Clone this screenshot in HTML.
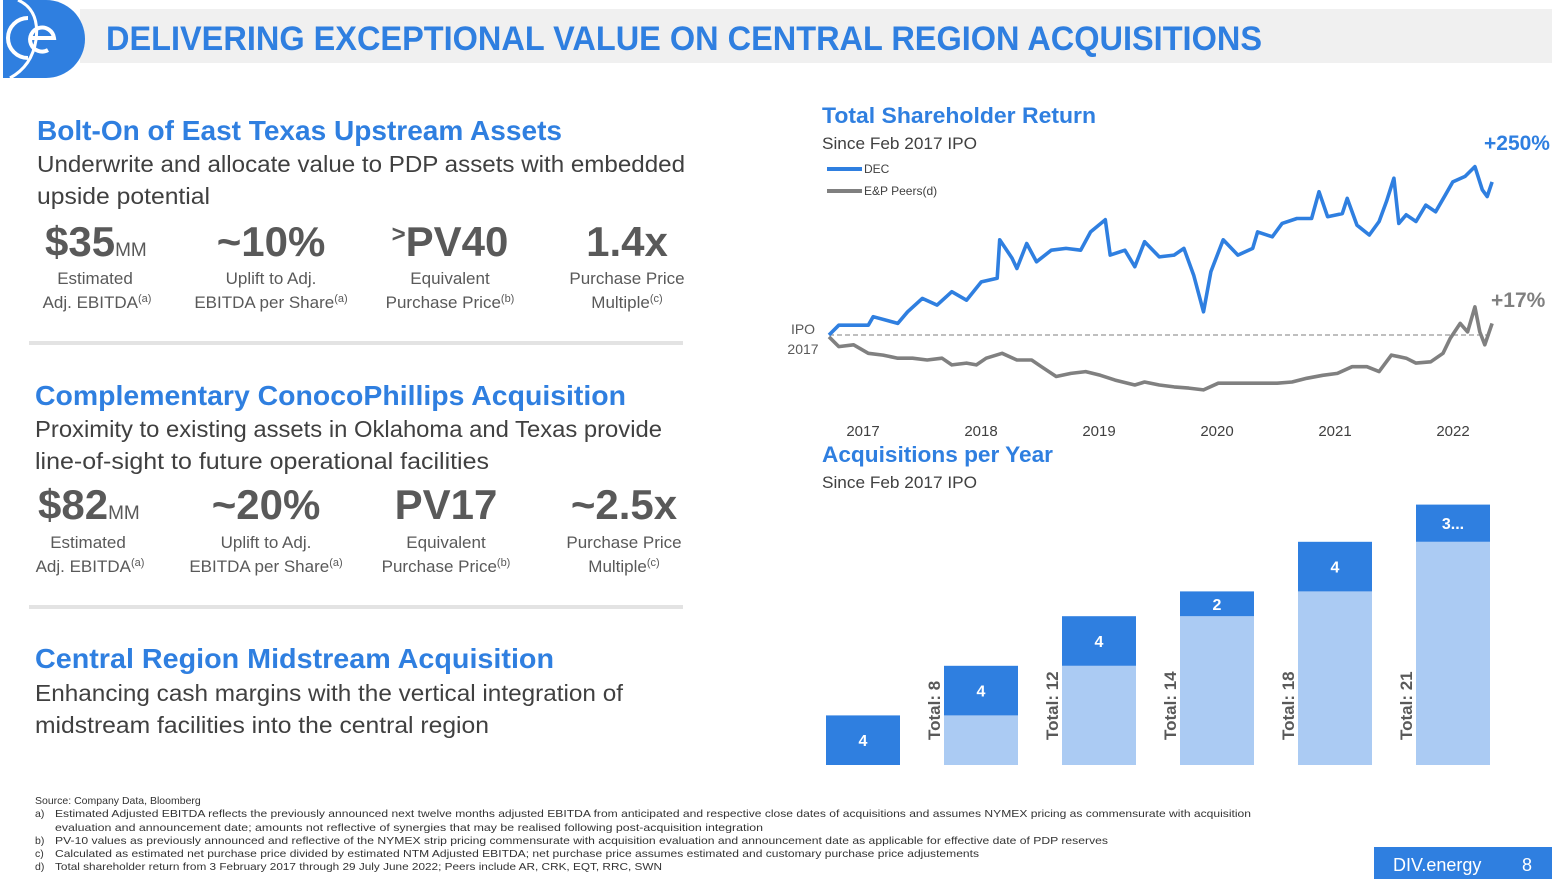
<!DOCTYPE html>
<html><head><meta charset="utf-8"><style>
html,body{margin:0;padding:0;background:#fff;width:1552px;height:879px;overflow:hidden}
svg{display:block;font-family:"Liberation Sans",sans-serif}
.h{fill:#2f7fe0;font-weight:bold;font-size:28px}
.b{fill:#404040;font-size:23px}
.n{fill:#595959;font-weight:bold;font-size:42px}
.l{fill:#595959;font-size:17px}
.f{fill:#333;font-size:10.5px}
</style></head><body>
<svg id="page" width="1552" height="879" viewBox="0 0 1552 879">
<rect x="80" y="9" width="1472" height="54" fill="#f0f0f0"/>
<g>
<path d="M3 0 H46 A39 39 0 0 1 46 78 H3 Z" fill="#2f7fe0"/>
<path d="M28 18 A16 16 0 0 0 28 58" stroke="#fff" stroke-width="4" fill="none"/>
<path d="M30 38 H54 A12 12 0 1 0 48 50" stroke="#fff" stroke-width="4" fill="none"/>
<path d="M18 0 Q40 10 36 40 Q32 66 10 78" stroke="#fff" stroke-width="3" fill="none"/>
</g>
<text x="106" y="50" fill="#2f7fe0" font-weight="bold" font-size="34" textLength="1156" lengthAdjust="spacingAndGlyphs">DELIVERING EXCEPTIONAL VALUE ON CENTRAL REGION ACQUISITIONS</text>

<g>
<text class="h" x="37" y="140" textLength="525" lengthAdjust="spacingAndGlyphs">Bolt-On of East Texas Upstream Assets</text>
<text class="b" x="37" y="172" textLength="648" lengthAdjust="spacingAndGlyphs">Underwrite and allocate value to PDP assets with embedded</text>
<text class="b" x="37" y="204" textLength="173" lengthAdjust="spacingAndGlyphs">upside potential</text>
<text class="n" x="45" y="256">$35<tspan font-size="19" font-weight="normal">MM</tspan></text>
<text class="n" x="271" y="256" text-anchor="middle">~10%</text>
<text class="n" x="450" y="256" text-anchor="middle"><tspan font-size="24" dy="-14">&gt;</tspan><tspan dy="14">PV40</tspan></text>
<text class="n" x="627" y="256" text-anchor="middle">1.4x</text>
<text class="l" x="95" y="284" text-anchor="middle">Estimated</text>
<text class="l" x="97" y="308" text-anchor="middle">Adj. EBITDA<tspan font-size="11" dy="-6">(a)</tspan></text>
<text class="l" x="271" y="284" text-anchor="middle">Uplift to Adj.</text>
<text class="l" x="271" y="308" text-anchor="middle">EBITDA per Share<tspan font-size="11" dy="-6">(a)</tspan></text>
<text class="l" x="450" y="284" text-anchor="middle">Equivalent</text>
<text class="l" x="450" y="308" text-anchor="middle">Purchase Price<tspan font-size="11" dy="-6">(b)</tspan></text>
<text class="l" x="627" y="284" text-anchor="middle">Purchase Price</text>
<text class="l" x="627" y="308" text-anchor="middle">Multiple<tspan font-size="11" dy="-6">(c)</tspan></text>
</g>
<rect x="29" y="341" width="654" height="4" fill="#e3e3e3"/>

<g>
<text class="h" x="35" y="405" textLength="591" lengthAdjust="spacingAndGlyphs">Complementary ConocoPhillips Acquisition</text>
<text class="b" x="35" y="437" textLength="627" lengthAdjust="spacingAndGlyphs">Proximity to existing assets in Oklahoma and Texas provide</text>
<text class="b" x="35" y="469" textLength="454" lengthAdjust="spacingAndGlyphs">line-of-sight to future operational facilities</text>
<text class="n" x="38" y="519">$82<tspan font-size="19" font-weight="normal">MM</tspan></text>
<text class="n" x="266" y="519" text-anchor="middle">~20%</text>
<text class="n" x="446" y="519" text-anchor="middle">PV17</text>
<text class="n" x="624" y="519" text-anchor="middle">~2.5x</text>
<text class="l" x="88" y="548" text-anchor="middle">Estimated</text>
<text class="l" x="90" y="572" text-anchor="middle">Adj. EBITDA<tspan font-size="11" dy="-6">(a)</tspan></text>
<text class="l" x="266" y="548" text-anchor="middle">Uplift to Adj.</text>
<text class="l" x="266" y="572" text-anchor="middle">EBITDA per Share<tspan font-size="11" dy="-6">(a)</tspan></text>
<text class="l" x="446" y="548" text-anchor="middle">Equivalent</text>
<text class="l" x="446" y="572" text-anchor="middle">Purchase Price<tspan font-size="11" dy="-6">(b)</tspan></text>
<text class="l" x="624" y="548" text-anchor="middle">Purchase Price</text>
<text class="l" x="624" y="572" text-anchor="middle">Multiple<tspan font-size="11" dy="-6">(c)</tspan></text>
</g>
<rect x="29" y="605" width="654" height="4" fill="#e3e3e3"/>

<g>
<text class="h" x="35" y="668" textLength="519" lengthAdjust="spacingAndGlyphs">Central Region Midstream Acquisition</text>
<text class="b" x="35" y="701" textLength="588" lengthAdjust="spacingAndGlyphs">Enhancing cash margins with the vertical integration of</text>
<text class="b" x="35" y="733" textLength="454" lengthAdjust="spacingAndGlyphs">midstream facilities into the central region</text>
</g>

<text x="822" y="123" fill="#2f7fe0" font-weight="bold" font-size="22" textLength="274" lengthAdjust="spacingAndGlyphs">Total Shareholder Return</text>
<text x="822" y="149" fill="#404040" font-size="17" textLength="155" lengthAdjust="spacingAndGlyphs">Since Feb 2017 IPO</text>
<g>
<line x1="827" y1="169" x2="862" y2="169" stroke="#2f7fe0" stroke-width="4"/>
<text x="864" y="173" font-size="12" fill="#404040">DEC</text>
<line x1="827" y1="191" x2="862" y2="191" stroke="#808080" stroke-width="4"/>
<text x="864" y="195" font-size="12" fill="#404040">E&amp;P Peers(d)</text>
</g>
<g id="tsr"></g>
<text x="1484" y="150" fill="#2f7fe0" font-weight="bold" font-size="21">+250%</text>
<text x="1491" y="307" fill="#808080" font-weight="bold" font-size="21">+17%</text>
<text x="803" y="334" fill="#595959" font-size="14" text-anchor="middle">IPO</text>
<text x="803" y="354" fill="#595959" font-size="14" text-anchor="middle">2017</text>

<text x="822" y="462" fill="#2f7fe0" font-weight="bold" font-size="22" textLength="231" lengthAdjust="spacingAndGlyphs">Acquisitions per Year</text>
<text x="822" y="488" fill="#404040" font-size="17" textLength="155" lengthAdjust="spacingAndGlyphs">Since Feb 2017 IPO</text>
<g id="acq"></g>

<g>
<text class="f" x="35" y="804">Source: Company Data, Bloomberg</text>
<text class="f" x="35" y="817">a)</text><text class="f" x="55" y="817" textLength="1196" lengthAdjust="spacingAndGlyphs">Estimated Adjusted EBITDA reflects the previously announced next twelve months adjusted EBITDA from anticipated and respective close dates of acquisitions and assumes NYMEX pricing as commensurate with acquisition</text>
<text class="f" x="55" y="831" textLength="708" lengthAdjust="spacingAndGlyphs">evaluation and announcement date; amounts not reflective of synergies that may be realised following post-acquisition integration</text>
<text class="f" x="35" y="844">b)</text><text class="f" x="55" y="844" textLength="1053" lengthAdjust="spacingAndGlyphs">PV-10 values as previously announced and reflective of the NYMEX strip pricing commensurate with acquisition evaluation and announcement date as applicable for effective date of PDP reserves</text>
<text class="f" x="35" y="857">c)</text><text class="f" x="55" y="857" textLength="924" lengthAdjust="spacingAndGlyphs">Calculated as estimated net purchase price divided by estimated NTM Adjusted EBITDA; net purchase price assumes estimated and customary purchase price adjustements</text>
<text class="f" x="35" y="870">d)</text><text class="f" x="55" y="870" textLength="607" lengthAdjust="spacingAndGlyphs">Total shareholder return from 3 February 2017 through 29 July June 2022; Peers include AR, CRK, EQT, RRC, SWN</text>
</g>
<rect x="1374" y="847" width="178" height="32" fill="#2f7fe0"/>
<text x="1393" y="871" fill="#fff" font-size="18">DIV.energy</text>
<text x="1522" y="871" fill="#fff" font-size="18">8</text>
</svg>
<script>
const NS='http://www.w3.org/2000/svg';
// TSR chart data
const decYears=[2017.10,2017.18,2017.42,2017.46,2017.66,2017.74,2017.86,2017.98,2018.10,2018.22,2018.34,2018.47,2018.49,2018.59,2018.63,2018.71,2018.79,2018.91,2019.03,2019.15,2019.23,2019.35,2019.39,2019.51,2019.59,2019.67,2019.79,2019.91,2019.99,2020.07,2020.15,2020.21,2020.31,2020.43,2020.55,2020.59,2020.71,2020.79,2020.91,2021.03,2021.09,2021.16,2021.28,2021.32,2021.40,2021.50,2021.58,2021.64,2021.70,2021.74,2021.80,2021.88,2021.96,2022.04,2022.12,2022.18,2022.28,2022.36,2022.42,2022.46,2022.50];
const decReturn=[0,16,16,30,19,38,60,49,71,57,87,93,156,126,109,150,120,139,142,139,169,189,131,139,112,153,128,131,142,98,38,104,156,131,142,169,161,183,191,191,235,194,199,224,180,164,186,219,257,183,197,186,213,202,230,251,260,276,238,227,251];
const peerYears=[2017.10,2017.18,2017.30,2017.42,2017.54,2017.66,2017.78,2017.90,2018.02,2018.10,2018.22,2018.30,2018.38,2018.51,2018.63,2018.75,2018.83,2018.95,2019.07,2019.19,2019.31,2019.43,2019.59,2019.67,2019.79,2019.91,2020.03,2020.15,2020.27,2020.39,2020.51,2020.63,2020.75,2020.87,2020.99,2021.12,2021.24,2021.36,2021.48,2021.58,2021.68,2021.80,2021.88,2022.00,2022.10,2022.16,2022.24,2022.30,2022.36,2022.40,2022.44,2022.50];
const peerReturn=[-3,-19,-16,-30,-33,-38,-38,-41,-38,-49,-46,-49,-38,-30,-41,-41,-52,-68,-63,-60,-66,-74,-82,-77,-82,-85,-87,-90,-79,-79,-79,-79,-79,-77,-71,-66,-63,-52,-52,-60,-33,-38,-46,-44,-30,-5,19,5,46,5,-16,19];
const yearTicks=['2017','2018','2019','2020','2021','2022'];
// Acquisitions chart data
const acqYears=['2017','2018','2019','2020','2021','2022'];
const acqPrior=[0,4,8,12,14,18];
const acqNew=[4,4,4,2,4,3];
const acqNewLabels=['4','4','4','2','4','3...'];
const acqTotals=['','Total: 8','Total: 12','Total: 14','Total: 18','Total: 21'];

function X(yr){return 829+(yr-2017.1)*122.8;}
function Y(r){return 335-r*0.61;}
function tickX(i){return 863+i*118;}
const tsr=document.getElementById('tsr');
function mk(tag,attrs,parent){const e=document.createElementNS(NS,tag);for(const k in attrs)e.setAttribute(k,attrs[k]);parent.appendChild(e);return e;}
const base=mk('line',{x1:X(2017.1),x2:X(2022.5),y1:Y(0),y2:Y(0),stroke:'#999','stroke-dasharray':'5,3','stroke-width':1.2},tsr);


function line(xs,vs,color,name){
  const d=xs.map((x,i)=>(i?'L':'M')+X(x).toFixed(1)+' '+Y(vs[i]).toFixed(1)).join(' ');
  const p=mk('path',{d:d,fill:'none',stroke:color,'stroke-width':3.6,'stroke-linejoin':'round'},tsr);
  
  
}
line(peerYears,peerReturn,'#808080','peers-line');
line(decYears,decReturn,'#2f7fe0','dec-line');
yearTicks.forEach((t,i)=>{
  const tx=mk('text',{x:tickX(i),y:436,'text-anchor':'middle','font-size':15,fill:'#404040'},tsr);
  tx.textContent=t;
  
  
});
// bars
const acq=document.getElementById('acq');
const unit=12.4, baseY=765;
function bx(i){return 826+i*118;}
acqYears.forEach((yr,i)=>{
  const x=bx(i), w=74;
  if(acqPrior[i]>0){
    const r=mk('rect',{x:x,y:baseY-acqPrior[i]*unit,width:w,height:acqPrior[i]*unit,fill:'#abcbf3'},acq);
    
    
  }
  const top=baseY-(acqPrior[i]+acqNew[i])*unit;
  const r2=mk('rect',{x:x,y:top,width:w,height:acqNew[i]*unit,fill:'#2f7fe0'},acq);
  
  
  const lb=mk('text',{x:x+w/2,y:top+acqNew[i]*unit/2+6,'text-anchor':'middle','font-size':16,'font-weight':'bold',fill:'#fff'},acq);
  lb.textContent=acqNewLabels[i];
  
  
  if(acqTotals[i]){
    const tt=mk('text',{transform:'translate('+(x-4)+',740) rotate(-90)','font-size':17,'font-weight':'bold',fill:'#595959'},acq);
    tt.textContent=acqTotals[i];
    
    
  }
});
</script>
</body></html>
